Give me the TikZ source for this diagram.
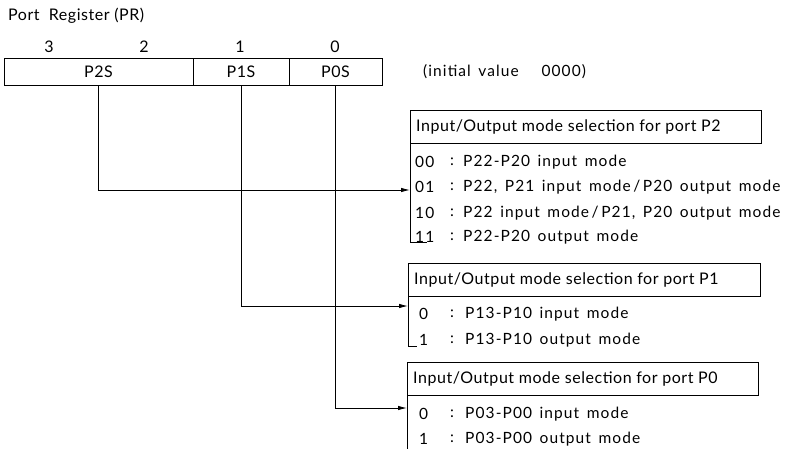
\documentclass[tikz,border=0pt]{standalone}
\usepackage{fontspec}
\setmainfont[LetterSpace=3.4]{Lato}
\newfontfamily\rowfont[LetterSpace=7,WordSpace=1.5]{Lato}
\usetikzlibrary{arrows.meta}
\tikzset{
  regcell/.style={draw, line width=0.9pt, minimum height=27pt, inner sep=0pt},
  titlebox/.style={draw, line width=0.9pt, minimum height=33pt, inner sep=0pt, anchor=north west},
  txt/.style={anchor=west, inner sep=0pt},
  row/.style={anchor=west, inner sep=0pt, font=\rowfont\fontsize{15.5}{17}\selectfont},
  conn/.style={line width=0.9pt, -{Latex[length=9pt,width=4.5pt]}},
  brack/.style={line width=0.9pt},
}
\begin{document}
\begin{tikzpicture}[x=1pt,y=-1pt, font=\fontsize{16}{18}\selectfont]
\useasboundingbox (0,0) rectangle (795,449);
\node[txt] (title) at (8,16) {Port~ Register (PR)};
% register
\node[regcell, minimum width=189pt] (p2s) at (98.5,71.5) {P2S};
\node[regcell, minimum width=96pt] (p1s) at (241,71.5) {P1S};
\node[regcell, minimum width=93pt] (p0s) at (335.5,71.5) {P0S};
\node (b3) at (49,47) {3};
\node (b2) at (144,47) {2};
\node (b1) at (240,47) {1};
\node (b0) at (335,47) {0};
\node[row] (init) at (423,72) {(initial value~~~0000)};
% P2 block
\node[titlebox, minimum width=351pt] (t2) at (410,110) {};
\node[txt] (t2l) at (416,127) {Input/Output mode selection for port P2};
\coordinate (t2s) at (410,143);
\coordinate (t2e) at (410,242);
\draw[brack] (t2s) -- (t2e) -- ++(17,0);
\node[row] (r00) at (415,162) {00};
\node[row] (c00) at (450,162) {:};
\node[row] (d00) at (463,162) {P22-P20 input mode};
\node[row] (r01) at (415,187) {01};
\node[row] (c01) at (450,187) {:};
\node[row] (d01) at (463,187) {P22, P21 input mode\,/\,P20 output mode};
\node[row] (r10) at (415,213) {10};
\node[row] (c10) at (450,213) {:};
\node[row] (d10) at (463,213) {P22 input mode\,/\,P21, P20 output mode};
\node[row] (r11) at (415,237) {11};
\node[row] (c11) at (450,237) {:};
\node[row] (d11) at (463,237) {P22-P20 output mode};
% P1 block
\node[titlebox, minimum width=352pt] (t1) at (408,263) {};
\node[txt] (t1l) at (414,280) {Input/Output mode selection for port P1};
\coordinate (t1s) at (408,297);
\coordinate (t1e) at (408,346);
\draw[brack] (t1s) -- (t1e) -- ++(9,0);
\node[row] (r1a) at (419,314) {0};
\node[row] (c1a) at (450,314) {:};
\node[row] (d1a) at (465,314) {P13-P10 input mode};
\node[row] (r1b) at (419,340) {1};
\node[row] (c1b) at (450,340) {:};
\node[row] (d1b) at (465,340) {P13-P10 output mode};
% P0 block
\node[titlebox, minimum width=351pt] (t0) at (407,362) {};
\node[txt] (t0l) at (413,379) {Input/Output mode selection for port P0};
\coordinate (t0s) at (407,395);
\coordinate (t0e) at (407,449);
\draw[brack] (t0s) -- (t0e);
\node[row] (r0a) at (419,414) {0};
\node[row] (c0a) at (450,414) {:};
\node[row] (d0a) at (465,414) {P03-P00 input mode};
\node[row] (r0b) at (419,439) {1};
\node[row] (c0b) at (450,439) {:};
\node[row] (d0b) at (465,439) {P03-P00 output mode};
% connectors
\coordinate (a2) at (410,190);
\coordinate (a1) at (408,306);
\coordinate (a0) at (407,408);
\draw[conn] (p2s.south) |- (a2);
\draw[conn] (p1s.south) |- (a1);
\draw[conn] (p0s.south) |- (a0);
\end{tikzpicture}
\end{document}
